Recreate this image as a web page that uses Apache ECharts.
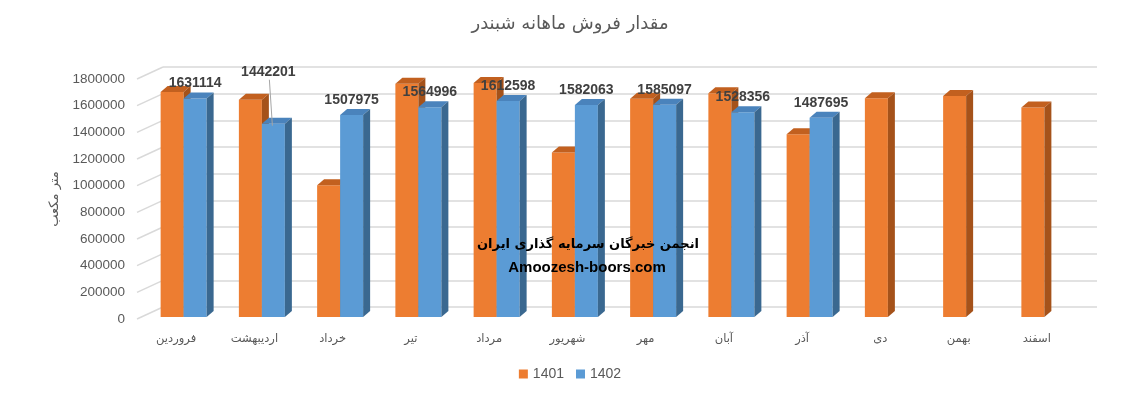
<!DOCTYPE html>
<html>
<head>
<meta charset="utf-8">
<script src="https://cdn.jsdelivr.net/npm/echarts@6/dist/echarts.min.js"></script>
<style>
html,body{margin:0;padding:0;background:#fff;}
#c{width:1140px;height:396px;}
</style>
</head>
<body>
<div id="c"></div>
<script>
const months = ['فروردین','اردیبهشت','خرداد','تیر','مرداد','شهریور','مهر','آبان','آذر','دی','بهمن','اسفند'];
const sales1401 = [1680000,1621000,980000,1742000,1748000,1227000,1630000,1670000,1364000,1633000,1650000,1563000];
const sales1402 = [1631114,1442201,1507975,1564996,1612598,1582063,1585097,1528356,1487695,null,null,null];
const seriesNames = ['1401','1402'];
const yTicks = [0,200000,400000,600000,800000,1000000,1200000,1400000,1600000,1800000];
const titleText = 'مقدار فروش ماهانه شبندر';
const yAxisName = 'متر مکعب';
const watermark1 = 'انجمن خبرگان سرمایه گذاری ایران';
const watermark2 = 'Amoozesh-boors.com';

const colors = [
  {front:'#ED7D31', top:'#C2601F', side:'#A5521A'},
  {front:'#5B9BD5', top:'#4A83BC', side:'#3A6890'}
];
const BAR_W = 23, DX = 7, DY = -6;
const labelNudge = {1: [-5, -37]};

function barRenderer(s, withLabels) {
  return function (params, api) {
    const v = api.value(1);
    if (v === null || v === undefined || isNaN(v)) return null;
    const idx = api.value(0);
    const base = api.coord([idx, 0]);
    const top = api.coord([idx, v]);
    const cx = base[0];
    const x0 = cx - 15.5 + s * BAR_W;
    const yb = base[1] - 2;
    const yt = top[1] - 3;
    const c = colors[s];
    const children = [
      {type:'rect', shape:{x:x0, y:yt, width:BAR_W, height:yb-yt}, style:{fill:c.front}},
      {type:'polygon', shape:{points:[[x0,yt],[x0+BAR_W,yt],[x0+BAR_W+DX,yt+DY],[x0+DX,yt+DY]]}, style:{fill:c.top}},
      {type:'polygon', shape:{points:[[x0+BAR_W,yt],[x0+BAR_W+DX,yt+DY],[x0+BAR_W+DX,yb+DY],[x0+BAR_W,yb]]}, style:{fill:c.side}}
    ];
    if (withLabels) {
      const n = labelNudge[params.dataIndex] || [0,0];
      const lx = x0 + BAR_W/2 + n[0];
      const ly = yt - 15 + n[1];
      if (labelNudge[params.dataIndex]) {
        children.push({type:'line', shape:{x1:lx+1, y1:ly+8, x2:x0+BAR_W/2-1, y2:yt+2}, style:{stroke:'#a6a6a6', lineWidth:1}});
      }
      children.push({type:'text', x:lx, y:ly, style:{text:String(v), fill:'#404040', font:'bold 14px "Liberation Sans", Arial, sans-serif', align:'center', verticalAlign:'middle'}});
    }
    return {type:'group', children};
  };
}

const chart = echarts.init(document.getElementById('c'), null, {renderer:'canvas'});
chart.setOption({
  animation:false,
  backgroundColor:'#fff',
  title:{text:titleText, left:'center', top:10, textStyle:{fontSize:18, fontWeight:'normal', color:'#595959', fontFamily:'"DejaVu Sans", sans-serif'}},
  legend:{data:seriesNames, bottom:10, left:'center', itemWidth:9, itemHeight:9, itemGap:12, icon:'rect',
    textStyle:{fontSize:14, color:'#595959', fontFamily:'"Liberation Sans", Arial, sans-serif'}},
  grid:[
    {left:137, right:64, top:79, bottom:77},
    {left:163, right:43, top:67, bottom:89}
  ],
  xAxis:[
    {type:'category', gridIndex:0, data:months, axisLine:{show:false}, axisTick:{show:false},
      axisLabel:{margin:14, fontSize:11.5, color:'#595959', fontFamily:'"DejaVu Sans", sans-serif'}},
    {type:'category', gridIndex:1, data:months, show:false}
  ],
  yAxis:[
    {type:'value', gridIndex:0, min:0, max:1800000, interval:200000, splitLine:{show:false}, axisLine:{show:false}, axisTick:{show:false},
      axisLabel:{margin:12, fontSize:13.5, color:'#595959', fontFamily:'"Liberation Sans", Arial, sans-serif', formatter:function(v){return String(v);}},
      name:yAxisName, nameLocation:'middle', nameRotate:90, nameGap:70,
      nameTextStyle:{fontSize:13, color:'#595959', fontFamily:'"DejaVu Sans", sans-serif'}},
    {type:'value', gridIndex:1, min:0, max:1800000, interval:200000, axisLabel:{show:false}, axisLine:{show:false}, axisTick:{show:false},
      splitLine:{show:true, lineStyle:{color:'#d9d9d9', width:1.5}}}
  ],
  graphic:[
    {type:'text', x:588, y:245, z:100, style:{text:watermark1, fill:'#000', font:'bold 13px "DejaVu Sans", sans-serif', align:'center', verticalAlign:'middle'}},
    {type:'text', x:587, y:268, z:100, style:{text:watermark2, fill:'#000', font:'bold 15px "Liberation Sans", Arial, sans-serif', align:'center', verticalAlign:'middle'}}
  ],
  series:[
    {name:'wall', type:'custom', xAxisIndex:0, yAxisIndex:0, silent:true, z:1,
      data:yTicks.map(t=>[0,t]),
      renderItem:function(params, api){
        const p = api.coord([0, api.value(1)]);
        const half = api.size([1,0])[0]/2;
        const x = p[0]-half;
        return {type:'line', shape:{x1:x, y1:p[1], x2:x+26, y2:p[1]-12}, style:{stroke:'#d9d9d9', lineWidth:1.5}};
      }},
    {name:seriesNames[0], type:'custom', xAxisIndex:0, yAxisIndex:0, z:3, itemStyle:{color:colors[0].front},
      data:sales1401.map((v,i)=>[i,v]), renderItem:barRenderer(0,false)},
    {name:seriesNames[1], type:'custom', xAxisIndex:0, yAxisIndex:0, z:4, itemStyle:{color:colors[1].front},
      data:sales1402.map((v,i)=>[i,v]).filter(d=>d[1]!==null), renderItem:barRenderer(1,true)}
  ]
});
</script>
</body>
</html>
